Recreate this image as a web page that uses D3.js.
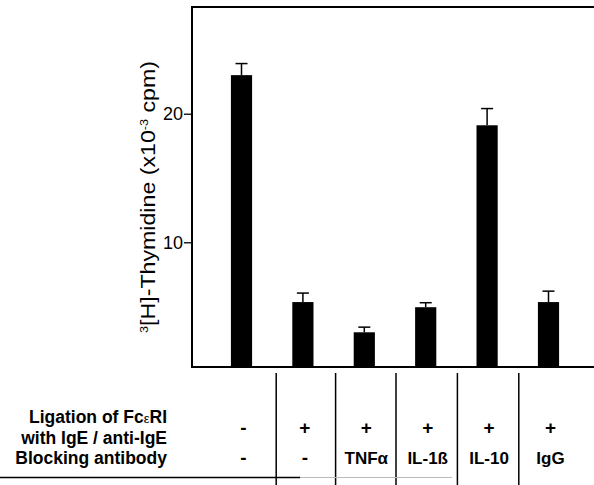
<!DOCTYPE html>
<html>
<head>
<meta charset="utf-8">
<script src="https://cdn.jsdelivr.net/npm/d3@7"></script>
<style>
  body { margin: 0; background: #fff; }
  svg { font-family: Arial, "Liberation Sans", sans-serif; }
  .tbl { font-weight: bold; font-size: 17.5px; }
</style>
</head>
<body>
<svg id="chart" width="594" height="485"></svg>
<script>
// conditions, one per bar
const categories = ["ctrl", "lig", "tnf", "il1b", "il10", "igg"];
const values = [23.0, 5.35, 3.0, 4.95, 19.1, 5.35];
const errors = [0.9, 0.7, 0.4, 0.35, 1.3, 0.85];
const ligation = ["-", "+", "+", "+", "+", "+"];
const blocking = ["-", "-", "TNFα", "IL-1ß", "IL-10", "IgG"];
const y_ticks = [10, 20];
const row_labels = ["Ligation of FcεRI", "with IgE / anti-IgE", "Blocking antibody"];

const svg = d3.select('#chart');

const y = d3.scaleLinear().domain([0.3, 28.3]).range([367, 7]);
const x = d3.scaleBand().domain(categories).range([210.8, 579.2])
    .paddingInner(0.655).paddingOuter(0.3275);

// frame: left axis, top line, bottom line
svg.append('line').attr('x1', 192).attr('x2', 192).attr('y1', 6).attr('y2', y(0.3) + 1)
    .attr('stroke', '#000').attr('stroke-width', 2);
svg.append('line').attr('x1', 191).attr('x2', 594).attr('y1', 7).attr('y2', 7)
    .attr('stroke', '#000').attr('stroke-width', 2);
svg.append('line').attr('x1', 191).attr('x2', 594).attr('y1', y(0.3)).attr('y2', y(0.3))
    .attr('stroke', '#000').attr('stroke-width', 2);

const yAxis = svg.append('g').attr('transform', 'translate(191,0)')
    .call(d3.axisLeft(y).tickValues(y_ticks).tickSize(7).tickPadding(1).tickFormat(d3.format('d')));
yAxis.select('.domain').remove();
yAxis.selectAll('line').attr('stroke-width', 1.3);
yAxis.selectAll('text').attr('font-size', 18).attr('font-family', 'Arial, "Liberation Sans", sans-serif');

// y label
svg.append('text')
    .attr('transform', 'translate(155,' + 197 + ') rotate(-90)')
    .attr('text-anchor', 'middle')
    .attr('font-size', 20)
    .attr('textLength', 272)
    .attr('lengthAdjust', 'spacingAndGlyphs')
    .html('<tspan font-size="11" dy="-7">3</tspan><tspan dy="7">[H]-Thymidine (x10</tspan><tspan font-size="11" dy="-7">-3</tspan><tspan dy="7"> cpm)</tspan>');

// error bars
const eb = svg.append('g');
categories.forEach(function(c, i) {
    let cx = x(c) + x.bandwidth() / 2;
    eb.append('line').attr('x1', cx).attr('x2', cx)
        .attr('y1', y(values[i])).attr('y2', y(values[i] + errors[i]))
        .attr('stroke', '#000').attr('stroke-width', 1.5);
    eb.append('line').attr('x1', cx - 6).attr('x2', cx + 6)
        .attr('y1', y(values[i] + errors[i])).attr('y2', y(values[i] + errors[i]))
        .attr('stroke', '#000').attr('stroke-width', 1.5);
});

// bars
svg.append('g').selectAll('rect')
    .data(categories)
    .enter().append('rect')
    .attr('x', d => x(d))
    .attr('width', x.bandwidth())
    .attr('y', (d, i) => y(values[i]))
    .attr('height', (d, i) => y(0.3) - y(values[i]))
    .attr('fill', '#000');

// table below
const tbl = svg.append('g').attr('class', 'tbl');
const step = x.step();
const sep_shift = [4, 2, 1, 1, 1];
categories.slice(0, -1).forEach(function(c, i) {
    let sx = x(c) + x.bandwidth() / 2 + step / 2 + sep_shift[i];
    tbl.append('line').attr('x1', sx).attr('x2', sx).attr('y1', 373).attr('y2', 485)
        .attr('stroke', '#000').attr('stroke-width', 1.5);
});
tbl.append('line').attr('x1', 0).attr('x2', 300).attr('y1', 477.5).attr('y2', 477.5)
    .attr('stroke', '#000').attr('stroke-width', 1.5);
tbl.append('line').attr('x1', 300).attr('x2', 452).attr('y1', 477.5).attr('y2', 477.5)
    .attr('stroke', '#bbb').attr('stroke-width', 1);

const label_y = [423, 444, 464];
row_labels.forEach(function(t, i) {
    let el = tbl.append('text').attr('x', 167).attr('y', label_y[i]).attr('text-anchor', 'end');
    if (t.indexOf('ε') >= 0) {
        el.html('Ligation of Fc<tspan font-size="13" font-weight="normal">ε</tspan>RI');
    } else {
        el.text(t);
    }
});

categories.forEach(function(c, i) {
    let cx = x(c) + x.bandwidth() / 2;
    tbl.append('text').attr('x', cx + 2).attr('y', 434).attr('text-anchor', 'middle')
        .attr('font-size', 19).text(ligation[i]);
    tbl.append('text').attr('x', cx + 2).attr('y', 464).attr('text-anchor', 'middle')
        .attr('font-size', blocking[i] === '-' ? 19 : 17).text(blocking[i]);
});
</script>
</body>
</html>
